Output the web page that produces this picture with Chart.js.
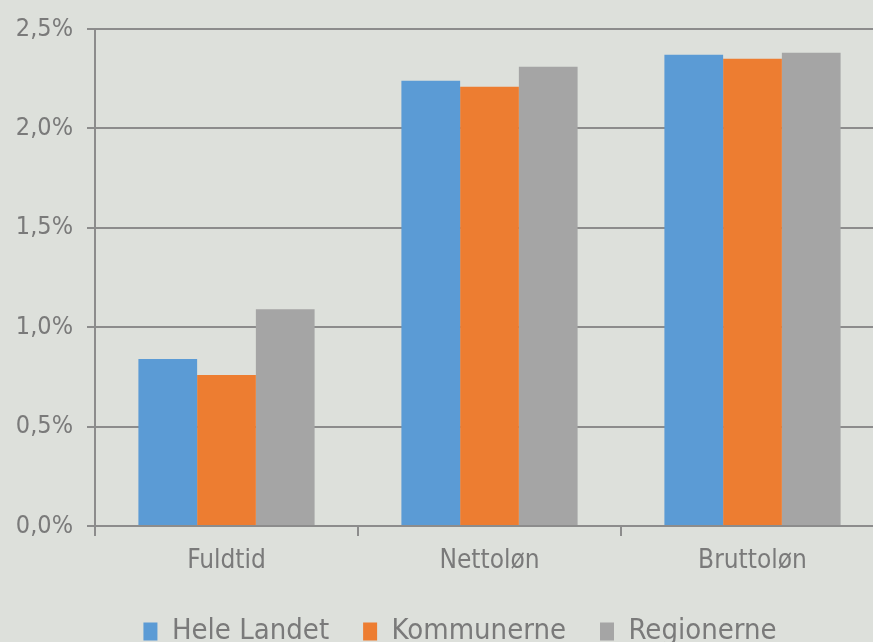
<!DOCTYPE html>
<html><head><meta charset="utf-8">
<script src="https://cdn.jsdelivr.net/npm/chart.js@4"></script>
<style>
html,body{margin:0;padding:0;background:#dde0db;overflow:hidden;width:873px;height:642px}
#wrap{position:absolute;left:0;top:0;width:900px;height:682px}
</style></head><body>
<div id="wrap"><canvas id="c" width="900" height="682"></canvas></div>
<script>
const categories = ["Fuldtid", "Nettoløn", "Bruttoløn"];
const seriesNames = ["Hele Landet", "Kommunerne", "Regionerne"];
const heleLandet = [0.84, 2.24, 2.37];
const kommunerne = [0.76, 2.21, 2.35];
const regionerne = [1.09, 2.31, 2.38];
const yTicks = [0, 0.5, 1.0, 1.5, 2.0, 2.5];
const colors = ["#5b9bd5", "#ed7d31", "#a5a5a5"];
const FONT = "'DejaVu Sans Condensed', 'DejaVu Sans', sans-serif";

const bg = {id:'bg', beforeDraw(ch){const c=ch.ctx;c.save();c.fillStyle='#dde0db';c.fillRect(0,0,ch.width,ch.height);c.restore();}};
const shiftLegend = {id:'shiftLegend', afterLayout(ch){
  const lg = ch.legend; if(!lg) return;
  lg.left += 18; lg.right += 18;
  const dy = (ch.chartArea.bottom + 83 + 22) - (lg.top + lg.options.labels.padding + 14);
  lg.top += dy; lg.bottom += dy;
}};

new Chart(document.getElementById('c'), {
  type: 'bar',
  data: {
    labels: categories,
    datasets: [heleLandet, kommunerne, regionerne].map((d,i)=>({
      label: seriesNames[i], data: d, backgroundColor: colors[i],
      barPercentage: 1.0, categoryPercentage: 0.67, borderWidth: 0
    }))
  },
  options: {
    responsive: false, animation: false,
    layout: {padding: {left: 0, right: 16, top: 29, bottom: 0}},
    plugins: {
      legend: {position: 'bottom', labels: {font: {family: FONT, size: 29}, color: '#7a7a7a', boxWidth: 14, boxHeight: 18, padding: 34}},
      tooltip: {enabled: false}
    },
    scales: {
      y: {
        min: 0, max: 2.5,
        afterBuildTicks(s){ s.ticks = yTicks.map(v=>({value:v})); },
        afterFit(s){ s.width = 95; },
        ticks: {callback: v => v.toFixed(1).replace('.', ',') + '%', font: {family: FONT, size: 25}, color: '#7a7a7a', padding: 14},
        grid: {color: '#8c8c8c', lineWidth: 2, tickLength: 8},
        border: {color: '#8c8c8c', width: 2}
      },
      x: {
        afterFit(s){ s.height = 83; },
        ticks: {font: {family: FONT, size: 26}, color: '#7a7a7a', padding: 10},
        grid: {drawOnChartArea: false, color: '#8c8c8c', lineWidth: 2, tickLength: 10, offset: true},
        border: {color: '#8c8c8c', width: 2}
      }
    }
  },
  plugins: [bg, shiftLegend]
});
</script></body></html>
